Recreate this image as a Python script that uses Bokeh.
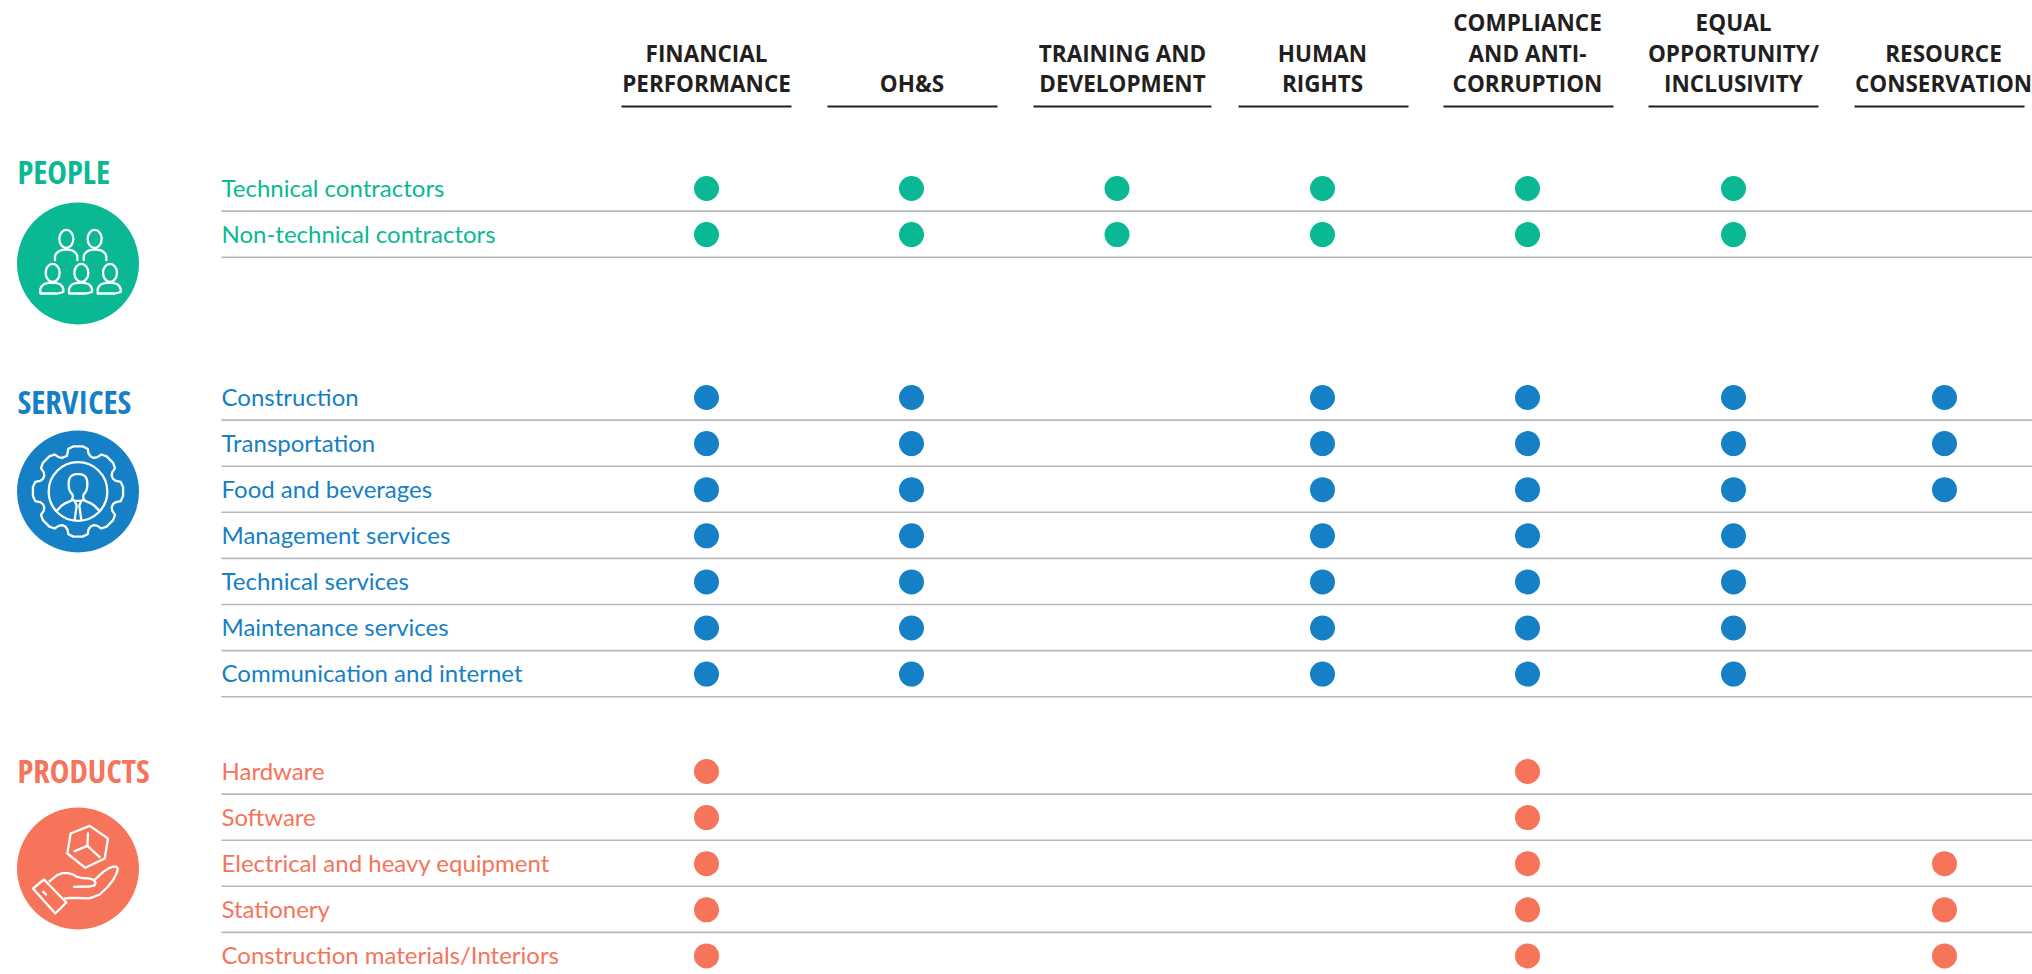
from bokeh.plotting import figure
from bokeh.models import Range1d
from bokeh.core.properties import value
from bokeh.embed import file_html
from bokeh.resources import INLINE
import math

# ---- data ----
columns = [
    ["FINANCIAL", "PERFORMANCE"],
    ["OH&S"],
    ["TRAINING AND", "DEVELOPMENT"],
    ["HUMAN", "RIGHTS"],
    ["COMPLIANCE", "AND ANTI-", "CORRUPTION"],
    ["EQUAL", "OPPORTUNITY/", "INCLUSIVITY"],
    ["RESOURCE", "CONSERVATION"],
]
people_rows = ["Technical contractors", "Non-technical contractors"]
people_marks = [
    [1, 1, 1, 1, 1, 1, 0],
    [1, 1, 1, 1, 1, 1, 0],
]
services_rows = ["Construction", "Transportation", "Food and beverages", "Management services",
                 "Technical services", "Maintenance services", "Communication and internet"]
services_marks = [
    [1, 1, 0, 1, 1, 1, 1],
    [1, 1, 0, 1, 1, 1, 1],
    [1, 1, 0, 1, 1, 1, 1],
    [1, 1, 0, 1, 1, 1, 0],
    [1, 1, 0, 1, 1, 1, 0],
    [1, 1, 0, 1, 1, 1, 0],
    [1, 1, 0, 1, 1, 1, 0],
]
products_rows = ["Hardware", "Software", "Electrical and heavy equipment", "Stationery",
                 "Construction materials/Interiors"]
products_marks = [
    [1, 0, 0, 0, 1, 0, 0],
    [1, 0, 0, 0, 1, 0, 0],
    [1, 0, 0, 0, 1, 0, 1],
    [1, 0, 0, 0, 1, 0, 1],
    [1, 0, 0, 0, 1, 0, 1],
]

# ---- layout ----
W, H = 2032, 974
COL_X = [706, 911, 1116.5, 1322, 1527, 1733, 1944]
HEAD_X = [706, 911.5, 1122, 1322, 1527, 1733, 1943]
RULE_X = [621, 827, 1033, 1238, 1443, 1648, 1854]
RULE_W = [170, 170, 178, 170, 170, 170, 170]
LABEL_X = 221
ROW_STEP = 46.1
ICON_X = 77.5
ICON_R = 61
HEAD_FONT = "Open Sans"
LABEL_FONT = "Lato"
TITLE_FONT = "Open Sans Condensed"
INK = "#231f20"
RULE = "#b7b7ba"

groups = [
    dict(name="PEOPLE", rows=people_rows, marks=people_marks, color="#0ab894", y0=188, title_y=170.5, icon_y=263),
    dict(name="SERVICES", rows=services_rows, marks=services_marks, color="#1580c6", y0=397, title_y=400.5, icon_y=491),
    dict(name="PRODUCTS", rows=products_rows, marks=products_marks, color="#f6745a", y0=771, title_y=770, icon_y=868),
]

p = figure(width=W, height=H, output_backend="svg", toolbar_location=None,
           x_range=Range1d(0, W), y_range=Range1d(H, 0),
           min_border=0, min_border_left=0, min_border_right=0, min_border_top=0, min_border_bottom=0,
           outline_line_color=None, background_fill_color="white", border_fill_color="white")
p.axis.visible = False
p.grid.visible = False

# headers
for hx, lines in zip(HEAD_X, columns):
    ys = [83 - 30.4 * (len(lines) - 1 - i) for i in range(len(lines))]
    p.text(x=[hx] * len(lines), y=ys, text=lines,
           text_font=value(HEAD_FONT), text_font_style="bold", text_font_size="22.5px",
           text_color=INK, text_align="center", text_baseline="middle")
p.segment(x0=RULE_X, x1=[x + w for x, w in zip(RULE_X, RULE_W)], y0=[106] * len(RULE_X), y1=[106] * len(RULE_X),
          line_color=INK, line_width=2)


def chaikin(pts, n=2):
    for _ in range(n):
        out = [pts[0]]
        for a, b in zip(pts[:-1], pts[1:]):
            out.append((a[0] * .75 + b[0] * .25, a[1] * .75 + b[1] * .25))
            out.append((a[0] * .25 + b[0] * .75, a[1] * .25 + b[1] * .75))
        out.append(pts[-1])
        pts = out
    return pts


def icon_line(cy, pts, smooth=0):
    if smooth:
        pts = chaikin(pts, smooth)
    p.line([ICON_X + (a - 210) / 3 for a, _ in pts], [cy + (b - 210) / 3 for _, b in pts],
           line_color="white", line_width=2.3, line_join="round", line_cap="round")


def icon_ell(cy, x, y, rx, ry):
    p.ellipse(x=[ICON_X + (x - 210) / 3], y=[cy + (y - 210) / 3], width=[2 * rx / 3], height=[2 * ry / 3],
              fill_color=None, line_color="white", line_width=2.3)


def draw_people(cy):
    for hx in (175, 260):
        icon_ell(cy, hx, 136, 21, 27)
    icon_line(cy, [(141, 200), (141, 182), (160, 168), (190, 168), (208, 182), (208, 200)], 2)
    icon_line(cy, [(227, 200), (227, 182), (245, 168), (277, 168), (295, 182), (295, 200)], 2)
    for dx in (0, 86, 172):
        icon_ell(cy, 134 + dx, 238, 21, 27)
        icon_line(cy, [(97 + dx, 300), (97 + dx, 282), (112 + dx, 268), (152 + dx, 268), (166 + dx, 282),
                       (166 + dx, 300), (97 + dx, 300)], 1)


def draw_services(cy):
    gear = []
    for k in range(8):
        c = k * math.pi / 4 - math.pi / 2
        for da, r in [(-0.30, 112), (-0.20, 138), (0.20, 138), (0.30, 112)]:
            gear.append((210 + r * math.cos(c + da), 210 + r * math.sin(c + da)))
    gear.append(gear[0])
    icon_line(cy, gear, 1)
    icon_ell(cy, 210, 210, 88, 88)
    icon_line(cy, [(192, 234), (196, 222), (182, 205), (182, 172), (195, 158), (225, 158), (238, 172),
                   (238, 205), (224, 222), (228, 234)], 2)
    icon_line(cy, [(146, 268), (165, 248), (196, 235)], 1)
    icon_line(cy, [(274, 268), (255, 248), (224, 235)], 1)
    icon_line(cy, [(200, 238), (220, 238), (214, 252), (220, 296)])
    icon_line(cy, [(200, 296), (206, 252), (200, 238)])


def draw_products(cy):
    hexa = [(245, 82), (300, 120), (290, 180), (232, 208), (178, 165), (188, 105), (245, 82)]
    icon_line(cy, hexa)
    icon_line(cy, [(240, 105), (238, 142), (200, 158)])
    icon_line(cy, [(238, 142), (275, 176)])
    icon_line(cy, [(75, 270), (108, 243), (175, 312), (142, 345), (75, 270)])
    icon_line(cy, [(106, 280), (114, 288)])
    icon_line(cy, [(125, 248), (155, 224), (188, 224), (212, 238), (250, 240), (264, 250), (258, 264), (198, 265)], 1)
    icon_line(cy, [(262, 242), (295, 212), (322, 202), (332, 212), (310, 255), (262, 300), (190, 298), (170, 300)], 1)


drawers = [draw_people, draw_services, draw_products]

for g, draw in zip(groups, drawers):
    color = g["color"]
    ys = [g["y0"] + ROW_STEP * i for i in range(len(g["rows"]))]
    # title
    p.text(x=[17], y=[g["title_y"]], text=[g["name"]], text_font=value(TITLE_FONT), text_font_style="bold",
           text_font_size="33px", text_color=color, text_align="left", text_baseline="middle")
    # icon disc
    p.circle(x=[ICON_X], y=[g["icon_y"]], radius=ICON_R, fill_color=color, line_color=None)
    draw(g["icon_y"])
    # row labels
    p.text(x=[LABEL_X] * len(ys), y=[y - 1.2 for y in ys], text=g["rows"], text_font=value(LABEL_FONT),
           text_font_size="24px", text_color=color, text_align="left", text_baseline="middle")
    # rules
    rule_ys = [y + 22.6 for y in ys] if g["name"] != "PRODUCTS" else [y + 22.6 for y in ys[:-1]]
    p.segment(x0=[LABEL_X] * len(rule_ys), x1=[W] * len(rule_ys), y0=rule_ys, y1=rule_ys,
              line_color=RULE, line_width=1.6)
    # dots
    dx, dy = [], []
    for y, row in zip(ys, g["marks"]):
        for cx, m in zip(COL_X, row):
            if m:
                dx.append(cx)
                dy.append(y)
    p.circle(x=dx, y=dy, radius=12.5, fill_color=color, line_color=None)

open("out.html", "w").write(file_html(p, INLINE))
